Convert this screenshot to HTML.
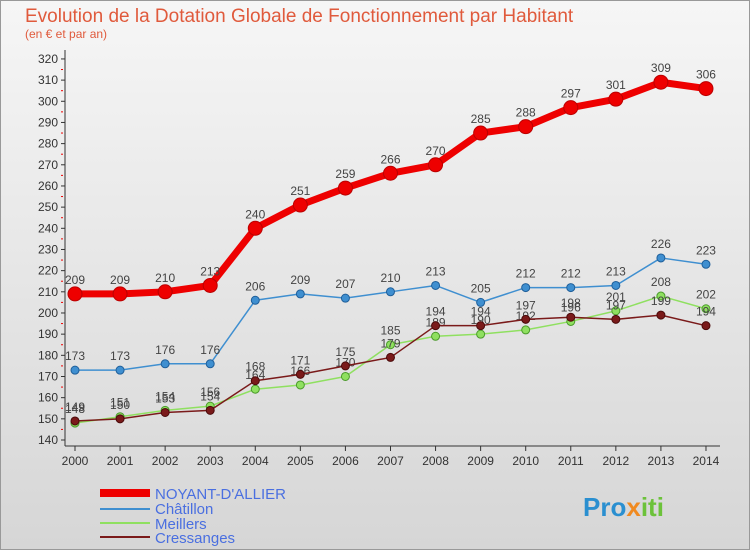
<!DOCTYPE html>
<html><head><meta charset="utf-8"><style>
body{margin:0;width:750px;height:550px;overflow:hidden;font-family:"Liberation Sans",sans-serif}
</style></head><body>
<svg width="750" height="550" xmlns="http://www.w3.org/2000/svg">
<defs><linearGradient id="bg" x1="0" y1="0" x2="0" y2="1"><stop offset="0" stop-color="#f6f6f6"/><stop offset="1" stop-color="#d6d6d6"/></linearGradient></defs>
<rect x="0.5" y="0.5" width="749" height="549" fill="url(#bg)" stroke="#999"/>
<text x="25" y="22" font-size="19" fill="#e05a3c">Evolution de la Dotation Globale de Fonctionnement par Habitant</text>
<text x="25" y="38" font-size="12" fill="#e05a3c">(en € et par an)</text>
<g id="axes"></g><g id="series"></g>
<g>
<line x1="100" y1="493" x2="150" y2="493" stroke="#e00" stroke-width="8"/>
<text x="155" y="499" font-size="15" fill="#4a6fe0">NOYANT-D'ALLIER</text>
<line x1="100" y1="509" x2="150" y2="509" stroke="#3f8fd0" stroke-width="2"/>
<text x="155" y="514" font-size="15" fill="#4a6fe0">Châtillon</text>
<line x1="100" y1="523" x2="150" y2="523" stroke="#8fe060" stroke-width="2"/>
<text x="155" y="529" font-size="15" fill="#4a6fe0">Meillers</text>
<line x1="100" y1="537" x2="150" y2="537" stroke="#7a1a1a" stroke-width="2"/>
<text x="155" y="543" font-size="15" fill="#4a6fe0">Cressanges</text>
</g>
<text x="583" y="516" font-size="26" font-weight="bold" fill="#2a8fd0">Pro<tspan fill="#f08a20">x</tspan><tspan fill="#6cc23a">iti</tspan></text>
</svg>
<script>
const years=[2000,2001,2002,2003,2004,2005,2006,2007,2008,2009,2010,2011,2012,2013,2014];
const noyant=[209,209,210,213,240,251,259,266,270,285,288,297,301,309,306];
const chatillon=[173,173,176,176,206,209,207,210,213,205,212,212,213,226,223];
const meillers=[148,151,154,156,164,166,170,185,189,190,192,196,201,208,202];
const cressanges=[149,150,153,154,168,171,175,179,194,194,197,198,197,199,194];
const yTicks=[140,150,160,170,180,190,200,210,220,230,240,250,260,270,280,290,300,310,320];
const NS="http://www.w3.org/2000/svg";
const xS=i=>75+i*45.07;
const yS=v=>440-(v-140)*2.117;
function mk(t,a,p){const e=document.createElementNS(NS,t);for(const k in a)e.setAttribute(k,a[k]);p.appendChild(e);return e;}
const ax=document.getElementById('axes');
let l=mk('line',{x1:65,y1:50,x2:65,y2:446,stroke:'#333'},ax);


l=mk('line',{x1:65,y1:446,x2:720,y2:446,stroke:'#333'},ax);


yTicks.forEach(v=>{const t=mk('text',{x:58,y:yS(v)+4,'font-size':12,'text-anchor':'end',fill:'#333'},ax);t.textContent=v;


mk('line',{x1:61,y1:yS(v),x2:65,y2:yS(v),stroke:'#333'},ax);
if(v<320)mk('line',{x1:61,y1:yS(v+5),x2:63,y2:yS(v+5),stroke:'#e00'},ax);});
years.forEach((y,i)=>{mk('line',{x1:xS(i),y1:446,x2:xS(i),y2:451,stroke:'#333'},ax);
const t=mk('text',{x:xS(i),y:465,'font-size':12,'text-anchor':'middle',fill:'#333'},ax);t.textContent=y;

});
const sg=document.getElementById('series');
function draw(d,name,col,w,r,dark){
const g=mk('g',{},sg);


const pl=mk('polyline',{points:d.map((v,i)=>xS(i)+','+yS(v)).join(' '),fill:'none',stroke:col,'stroke-width':w,'stroke-linejoin':'round'},g);


d.forEach((v,i)=>{const c=mk('circle',{cx:xS(i),cy:yS(v),r:r,fill:col,stroke:dark,'stroke-width':1},g);


const t=mk('text',{x:xS(i),y:yS(v)-10,'font-size':12,'text-anchor':'middle',fill:'#444'},g);t.textContent=v;

});}
draw(meillers,'meillers','#8fe060',1.5,4,'#4a9a2a');
draw(cressanges,'cressanges','#7a1a1a',1.5,4,'#4a0a0a');
draw(chatillon,'chatillon','#3f8fd0',1.5,4,'#1f5f9a');
draw(noyant,'noyant','#e00',7,7,'#b00');
</script>
</body></html>
